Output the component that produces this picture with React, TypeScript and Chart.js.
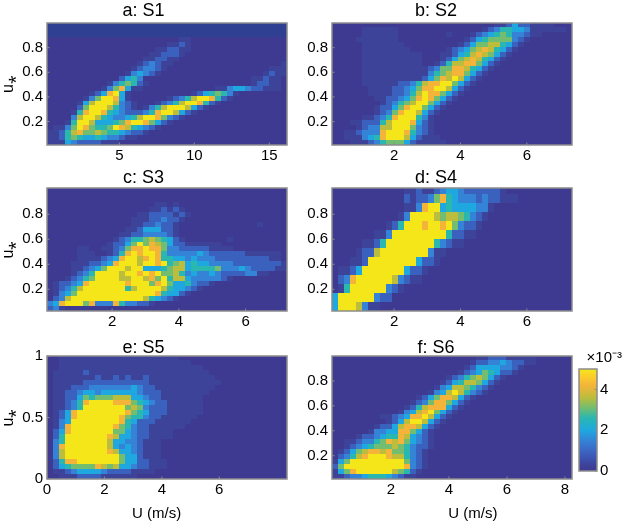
import React, { useEffect, useRef } from "react";
import { Chart, registerables } from "chart.js";

Chart.register(...registerables);

const FONT = "'Liberation Sans', Arial, sans-serif";
const TEXT = "#000000";
const FRAME = "#8c8c8c";

// value (x 10^-3) for every level character used in the grids
const LEVEL_VALUES: Record<string, number> = {
  ".": 0.15, "0": 0, "1": 0.3, "2": 0.9, "3": 1.5, "4": 2.0, "5": 2.6, "6": 3.1, "7": 3.6, "8": 4.2, "9": 5,
};
const COLOR_STOPS: [number, string][] = [
  [0, "#3e3a92"], [0.15, "#2f4093"], [0.3, "#3d4399"], [0.6, "#3b52ae"], [1.0, "#3b66c4"], [1.5, "#3583d6"], [2.0, "#1ea8df"],
  [2.6, "#2ab7b0"], [3.1, "#72bd70"], [3.6, "#bcbd3c"], [4.2, "#f4b43a"], [4.6, "#fbcb2c"], [5, "#f5e61a"],
];

const gridA = [
  "0000000000 0000000000 0000000000 0000000000".replace(/0/g, "."),
  "0000000000 0000000000 0000000000 0000000000".replace(/0/g, "."),
  "0000000000 0000000000 0000000000 0000000000".replace(/0/g, "."),
  "0000000000 0000000000 0011000000 0000000000",
  "0000000000 0000000000 1121000000 0000000000",
  "0000000000 0000000011 2211000000 0000000000",
  "0000000000 0000000112 2210000000 0000000000",
  "0000000000 0000001122 1100000000 0000000000",
  "0000000000 0000012321 1000000000 0000000001",
  "0000000000 0000123321 0000000000 0000000111",
  "0000000000 0001343210 0000000000 0000001211",
  "0000000000 0024530000 0000000000 0000112110",
  "0000000000 1356521000 0000000000 0000122110",
  "0000000001 3684110000 0000000011 3443221110",
  "0000000124 8941000000 0000124565 3100000000",
  "0000001369 9841000000 1235799852 1000000000",
  "0000014799 9732100012 3579985210 0000000000",
  "0000026999 7532101357 9997421000 0000000000",
  "0000158998 5432223589 9742100000 0000000000",
  "0000379975 4334579986 3210000000 0000000000",
  "0001599744 4568998642 1000000000 0000000000",
  "0113698655 6987543210 0000000000 0000000000",
  "1125786676 5543221000 0000000000 0000000000",
  "1125654454 3321100000 0000000000 0000000000",
  "1114322221 1100000000 0000000000 0000000000",
];
const gridB = [
  "0000000000 0000000000 0000000112 4221111000",
  "0000011111 1000000000 0000012355 4431111110",
  "0000011111 1000000001 0001234565 3321100000",
  "0000111111 1000000000 0012456666 3210000000",
  "0000011111 1100000000 0124667754 2100000000",
  "0000011111 1110000001 2346787542 1000000000",
  "0000011111 1111100011 2457876421 0000000000",
  "0000011111 1111100012 4678754210 0000000000",
  "0000011111 1111100125 7788642100 0000000000",
  "0000011111 1111112366 8875421000 0000000000",
  "0000011111 1111113567 8864210000 0000000000",
  "0000011111 1111124687 9742100000 0000000000",
  "0000011111 1223578899 6421000000 0000000000",
  "0000001111 2234688997 4210000000 0000000000",
  "0000001111 2235798864 2100000000 0000000000",
  "0000000112 2346898642 1000000000 0000000000",
  "0000000012 3567996421 0000000000 0000000000",
  "0000000122 4689964210 0000000000 0000000000",
  "0000000123 6899742100 0000000000 0000000000",
  "0000011235 8999531000 0000000000 0000000000",
  "0001122257 9998421000 0000000000 0000000000",
  "0000123377 9996321000 0000000000 0000000000",
  "0011233389 9985321000 0000000000 0000000000",
  "0011134589 9974211100 0000000000 0000000000",
  "0001112356 6642111110 0000000000 0000000000",
];
const gridC = [
  "0000000000 0000000000 0000000000 0000000000",
  "0000000000 0000000000 0000000000 0000000000",
  "0000000000 0000000000 0000000000 0000000000",
  "0000000000 0000000011 0100000000 0000000000",
  "0000000000 0000000112 1210000000 0000000000",
  "0000000000 0000011222 2121000000 0000000000",
  "0000000000 0000111223 2210000000 0000000000",
  "0000000000 0000112232 2100000000 0000010000",
  "0000000000 0001124442 2100000000 0000000000",
  "0000000000 0011223333 2100000000 0000000000",
  "0000000000 0123556765 4210000000 1000000000",
  "0000000000 1224696876 4221111110 0000000000",
  "0000011001 1236889886 3322222111 1000000000",
  "0000011100 1258989985 3333343222 2221111110",
  "0000011112 3489978985 5443433322 2222222110",
  "0000111223 4899979989 5674544333 3222222221",
  "0000112346 9997994445 6774555563 3343222211",
  "0000123599 9979989896 6753433432 2223311000",
  "0001235699 9977997869 5774333332 1000000000",
  "0122348999 9998999689 6445322100 0000000000",
  "0123579999 9995799997 5443210000 0000000000",
  "0134699999 9999999985 4421000000 0000000000",
  "0237999999 9999997543 2100000000 0000000000",
  "3489996833 3853322100 0000000000 0000000000",
  "2310000000 0000000000 0000000000 0000000000",
];
const gridD = [
  "0000000000 0011211234 4322222210 0000000000",
  "0000000000 0021223685 4333232211 1000000000",
  "0000000000 0011389945 4444331000 0000000000",
  "0000000000 0139999767 7653210000 0000000000",
  "0000000001 2599989989 6322100000 0000000000",
  "0000000113 9999999995 2211000000 0000000000",
  "0000011259 9999999532 1100000000 0000000000",
  "0000122799 9999993110 0000000000 0000000000",
  "0001129999 9999422100 0000000000 0000000000",
  "0112499999 9942210000 0000000000 0000000000",
  "0238999999 7321100000 0000000000 0000000000",
  "0159999993 2100000000 0000000000 0000000000",
  "4999999322 0000000000 0000000000 0000000000",
  "4999731100 0000000000 0000000000 0000000000",
];
const gridE = [
  "0011111111 1111111111 1100000000 0000000000",
  "0011111111 1111111111 1111000000 0000000000",
  "0011111111 1111111111 1111110000 0000000000",
  "0111112111 1111111111 1111111000 0000000000",
  "0111111121 1212112111 1111111100 0000000000",
  "0111112222 2222222111 1111111110 0000000000",
  "0111222333 3333432211 1111111100 0000000000",
  "0112234434 4444432221 1111111000 0000000000",
  "0112246566 6777443221 1111110000 0000000000",
  "0112358999 9888654322 1111110000 0000000000",
  "0112359999 9996763222 1111110000 0000000000",
  "0124899999 9998654222 1111110000 0000000000",
  "0124899999 9986553221 1111100000 0000000000",
  "0134999999 9985422211 1111000000 0000000000",
  "0138999999 9865322111 1110000000 0000000000",
  "0248999999 9664322111 1000000000 0000000000",
  "0259999999 8744322111 1000000000 0000000000",
  "0359999999 7443321110 0000000000 0000000000",
  "0389999999 7434321110 0000000000 0000000000",
  "0379999999 8744321110 0000000000 0000000000",
  "0379999999 9964421110 0000000000 0000000000",
  "0258899999 9964422111 0000000000 0000000000",
  "0245666687 6744322111 0000000000 0000000000",
  "0112344443 2222111100 0000000000 0000000000",
  "0011122221 1111100000 0000000000 0000000000",
];
const gridF = [
  "0000000000 0000000000 0000112221 1111000000",
  "0000000000 0000000000 0001223343 2211000000",
  "0000000000 0000000000 0012444433 2100000000",
  "0000000000 0000000000 0123465422 1000000000",
  "0000000000 0000000001 2356764210 0000000000",
  "0000000000 0000000012 4577642100 0000000000",
  "0000000000 0000000134 7765321000 0000000000",
  "0000000000 0000001347 9753210000 0000000000",
  "0000000000 0000124688 7421000000 0000000000",
  "0000000000 0001236886 4210000000 0000000000",
  "0000000000 0012578884 2100000000 0000000000",
  "0000000000 0134789642 1000000000 0000000000",
  "0000000011 2348897421 0000000000 0000000000",
  "0000000001 2479974210 0000000000 0000000000",
  "0000000122 4788742100 0000000000 0000000000",
  "0000001334 4886421000 0000000000 0000000000",
  "0000122345 5874321000 0000000000 0000000000",
  "0011233568 7864321000 0000000000 0000000000",
  "0012345666 7653221000 0000000000 0000000000",
  "0124678878 6653210000 0000000000 0000000000",
  "0235789998 7753210000 0000000000 0000000000",
  "1469999999 9963210000 0000000000 0000000000",
  "2699999999 9983210000 0000000000 0000000000",
  "1468999999 7652100000 0000000000 0000000000",
  "1123345554 3211000000 0000000000 0000000000",
];

const ticksXA = [5, 10, 15];
const ticksXB = [2, 4, 6];
const ticksXE = [0, 2, 4, 6];
const ticksXF = [2, 4, 6, 8];
const ticksY = [0.2, 0.4, 0.6, 0.8];
const ticksYE = [0, 0.5, 1];
const ticksBar = [0, 2, 4];

type Panel = {
  title: string; grid: string[]; xTicks: number[]; yTicks: number[];
  xMin: number; xMax: number; yMin: number; yMax: number; dy: number;
  left: number; top: number; width: number; px0: number; px1: number; py0: number; py1: number;
  titleGap: number; yLabel: boolean; xLabel?: string;
};

const panels: Panel[] = [
  { title: "a: S1", grid: gridA, xTicks: ticksXA, yTicks: ticksY, xMin: 0.18, xMax: 16.18, yMin: 0.01, yMax: 1.0, dy: 0.0396,
    left: 0, top: 3, width: 328, px0: 47, px1: 287, py0: 23, py1: 145, titleGap: 4, yLabel: true },
  { title: "b: S2", grid: gridB, xTicks: ticksXB, yTicks: ticksY, xMin: 0.13, xMax: 7.36, yMin: 0.01, yMax: 1.0, dy: 0.0396,
    left: 300, top: 3, width: 298, px0: 332, px1: 572, py0: 23, py1: 145, titleGap: 4, yLabel: false },
  { title: "c: S3", grid: gridC, xTicks: ticksXB, yTicks: ticksY, xMin: 0.05, xMax: 7.24, yMin: 0.026, yMax: 1.01, dy: 0.0394,
    left: 0, top: 170, width: 332, px0: 47, px1: 287, py0: 188, py1: 311, titleGap: 2, yLabel: true },
  { title: "d: S4", grid: gridD, xTicks: ticksXB, yTicks: ticksY, xMin: 0.13, xMax: 7.36, yMin: 0.026, yMax: 1.01, dy: 0.072,
    left: 300, top: 170, width: 298, px0: 332, px1: 572, py0: 188, py1: 311, titleGap: 2, yLabel: false },
  { title: "e: S5", grid: gridE, xTicks: ticksXE, yTicks: ticksYE, xMin: 0, xMax: 8.36, yMin: 0, yMax: 1, dy: 0.04,
    left: 0, top: 340, width: 323, px0: 47, px1: 287, py0: 356, py1: 479, titleGap: 0, yLabel: true, xLabel: "U (m/s)     " },
  { title: "f: S6", grid: gridF, xTicks: ticksXF, yTicks: ticksY, xMin: -0.03, xMax: 8.24, yMin: 0.013, yMax: 1.0, dy: 0.0395,
    left: 300, top: 340, width: 298, px0: 332, px1: 572, py0: 356, py1: 479, titleGap: 0, yLabel: false, xLabel: "          U (m/s)" },
];

function hexRgb(h: string) {
  return [parseInt(h.slice(1, 3), 16), parseInt(h.slice(3, 5), 16), parseInt(h.slice(5, 7), 16)];
}
function colorFor(v: number) {
  for (let i = 1; i < COLOR_STOPS.length; i++) {
    if (v <= COLOR_STOPS[i][0]) {
      const [a, ca] = COLOR_STOPS[i - 1];
      const [b, cb] = COLOR_STOPS[i];
      const t = (v - a) / (b - a);
      const A = hexRgb(ca), B = hexRgb(cb);
      return `rgb(${A.map((c, k) => Math.round(c + (B[k] - c) * t)).join(",")})`;
    }
  }
  return COLOR_STOPS[COLOR_STOPS.length - 1][1];
}

function cellsOf(p: Panel) {
  const dx = (p.xMax - p.xMin) / 40;
  const out: { x: number; y: number; v: number }[] = [];
  const n = p.grid.length;
  p.grid.forEach((row, r) => {
    row.replace(/ /g, "").split("").forEach((ch, c) => {
      out.push({ x: p.xMin + (c + 0.5) * dx, y: p.yMin + (n - 1 - r + 0.5) * p.dy, v: LEVEL_VALUES[ch] });
    });
  });
  return out;
}

function sprite(w: number, h: number, color: string, cache: Map<string, HTMLCanvasElement>) {
  let c = cache.get(color);
  if (!c) {
    c = document.createElement("canvas");
    c.width = w;
    c.height = h;
    const g = c.getContext("2d")!;
    g.fillStyle = color;
    g.fillRect(0, 0, w, h);
    cache.set(color, c);
  }
  return c;
}

const framePlugin = {
  id: "frame",
  afterDraw(chart: any) {
    const { ctx, chartArea: a, scales } = chart;
    ctx.save();
    ctx.strokeStyle = FRAME;
    ctx.lineWidth = 1.5;
    ctx.strokeRect(a.left, a.top, a.right - a.left, a.bottom - a.top);
    ctx.lineWidth = 1;
    const xs = scales.x;
    if (xs && xs.type === "linear") {
      xs.ticks.forEach((t: any) => {
        const px = xs.getPixelForValue(t.value);
        ctx.beginPath();
        ctx.moveTo(px, a.bottom);
        ctx.lineTo(px, a.bottom - 2.5);
        ctx.stroke();
      });
    }
    const ys = scales.y;
    ys.ticks.forEach((t: any) => {
      const py = ys.getPixelForValue(t.value);
      ctx.beginPath();
      if (ys.position === "left") {
        ctx.moveTo(a.left, py);
        ctx.lineTo(a.left + 2.5, py);
      } else {
        ctx.moveTo(a.right, py);
        ctx.lineTo(a.right - 2.5, py);
      }
      ctx.stroke();
    });
    ctx.restore();
  },
};

function panelChart(canvas: HTMLCanvasElement, p: Panel) {
  const cache = new Map<string, HTMLCanvasElement>();
  const xBox = p.xLabel ? 524 - p.py1 : 24;
  canvas.width = p.width;
  canvas.height = p.py1 + xBox - p.top;
  canvas.style.position = "absolute";
  canvas.style.left = p.left + "px";
  canvas.style.top = p.top + "px";
  canvas.style.filter = "blur(0.45px)";
  const cellW = Math.ceil((p.px1 - p.px0) / 40) + 1;
  const cellH = Math.ceil(((p.py1 - p.py0) * p.dy) / (p.yMax - p.yMin)) + 1;
  const cfg: any = {
    type: "scatter",
    data: {
      datasets: [{
        data: cellsOf(p),
        clip: 0,
        pointRadius: 3,
        pointHoverRadius: 3,
        pointBorderWidth: 0,
        pointStyle: (ctx: any) => sprite(cellW, cellH, colorFor(ctx.raw ? ctx.raw.v : 0), cache),
      }],
    },
    plugins: [framePlugin],
    options: {
      animation: false,
      responsive: false,
      devicePixelRatio: 1,
      events: [],
      layout: { padding: { left: 0, right: p.left + p.width - p.px1, top: 0, bottom: 0 } },
      plugins: {
        legend: { display: false },
        tooltip: { enabled: false },
        title: {
          display: true,
          text: p.title,
          color: TEXT,
          font: { family: FONT, size: 18, weight: "normal", lineHeight: "16px" },
          padding: { top: 0, bottom: p.titleGap },
        },
      },
      scales: {
        x: {
          type: "linear",
          min: p.xMin,
          max: p.xMax,
          afterBuildTicks: (s: any) => { s.ticks = p.xTicks.map((value) => ({ value })); },
          afterFit: (s: any) => { s.height = xBox; },
          grid: { display: false, drawTicks: false },
          border: { display: false },
          ticks: {
            autoSkip: false, maxRotation: 0, padding: 2, color: TEXT,
            font: { family: FONT, size: 15 },
            callback: (v: any) => String(v),
          },
          title: p.xLabel
            ? { display: true, text: p.xLabel, color: TEXT, padding: { top: 0, bottom: 1 }, font: { family: FONT, size: 15, lineHeight: "18px" } }
            : { display: false },
        },
        y: {
          type: "linear",
          min: p.yMin,
          max: p.yMax,
          afterBuildTicks: (s: any) => { s.ticks = p.yTicks.map((value) => ({ value })); },
          afterFit: (s: any) => { s.width = p.px0 - p.left; },
          grid: { display: false, drawTicks: false },
          border: { display: false },
          ticks: {
            autoSkip: false, padding: 4, color: TEXT,
            font: { family: FONT, size: 15 },
            callback: (v: any) => String(v),
          },
          title: p.yLabel
            ? { display: true, text: "u\u204E", color: TEXT, padding: 0, font: { family: FONT, size: 16, lineHeight: "18px" } }
            : { display: false },
        },
      },
    },
  };
  return new Chart(canvas, cfg);
}

function colorbarChart(canvas: HTMLCanvasElement) {
  canvas.width = 52;
  canvas.height = 524 - 350;
  canvas.style.position = "absolute";
  canvas.style.left = "570px";
  canvas.style.top = "350px";
  canvas.style.filter = "blur(0.45px)";
  const cfg: any = {
    type: "bar",
    data: {
      labels: ["scale"],
      datasets: [{
        data: [5],
        categoryPercentage: 1,
        barPercentage: 1,
        backgroundColor: (ctx: any) => {
          const { chartArea: a, ctx: c, scales } = ctx.chart;
          if (!a) return COLOR_STOPS[0][1];
          const y0 = scales.y.getPixelForValue(0);
          const y1 = scales.y.getPixelForValue(5);
          const g = c.createLinearGradient(0, y0, 0, y1);
          COLOR_STOPS.filter(([v]) => v !== 0.15).forEach(([v, col]) => g.addColorStop(v / 5, col));
          return g;
        },
      }],
    },
    plugins: [framePlugin],
    options: {
      animation: false,
      responsive: false,
      devicePixelRatio: 1,
      events: [],
      layout: { padding: { left: 9, right: 0, top: 0, bottom: 53 } },
      plugins: {
        legend: { display: false },
        tooltip: { enabled: false },
        title: {
          display: true,
          text: "\u00D710\u207B\u00B3",
          align: "end",
          color: TEXT,
          font: { family: FONT, size: 15, weight: "normal", lineHeight: "16px" },
          padding: { top: 0, bottom: 3 },
        },
      },
      scales: {
        x: { type: "category", display: false },
        y: {
          type: "linear",
          position: "right",
          min: 0,
          max: 5,
          afterBuildTicks: (s: any) => { s.ticks = ticksBar.map((value) => ({ value })); },
          afterFit: (s: any) => { s.width = 25; },
          grid: { display: false, drawTicks: false },
          border: { display: false },
          ticks: {
            autoSkip: false, padding: 3, color: TEXT,
            font: { family: FONT, size: 15 },
            callback: (v: any) => String(v),
          },
        },
      },
    },
  };
  return new Chart(canvas, cfg);
}

export default function App() {
  const rootRef = useRef<HTMLDivElement>(null);
  useEffect(() => {
    const root = rootRef.current!;
    const charts: Chart[] = [];
    panels.forEach((p) => {
      const c = document.createElement("canvas");
      root.appendChild(c);
      charts.push(panelChart(c, p));
    });
    const bar = document.createElement("canvas");
    root.appendChild(bar);
    charts.push(colorbarChart(bar));
    return () => {
      charts.forEach((c) => c.destroy());
      root.innerHTML = "";
    };
  }, []);
  return (
    <div
      ref={rootRef}
      style={{ position: "absolute", left: 0, top: 0, width: 622, height: 524, background: "#fff", overflow: "hidden" }}
    />
  );
}
